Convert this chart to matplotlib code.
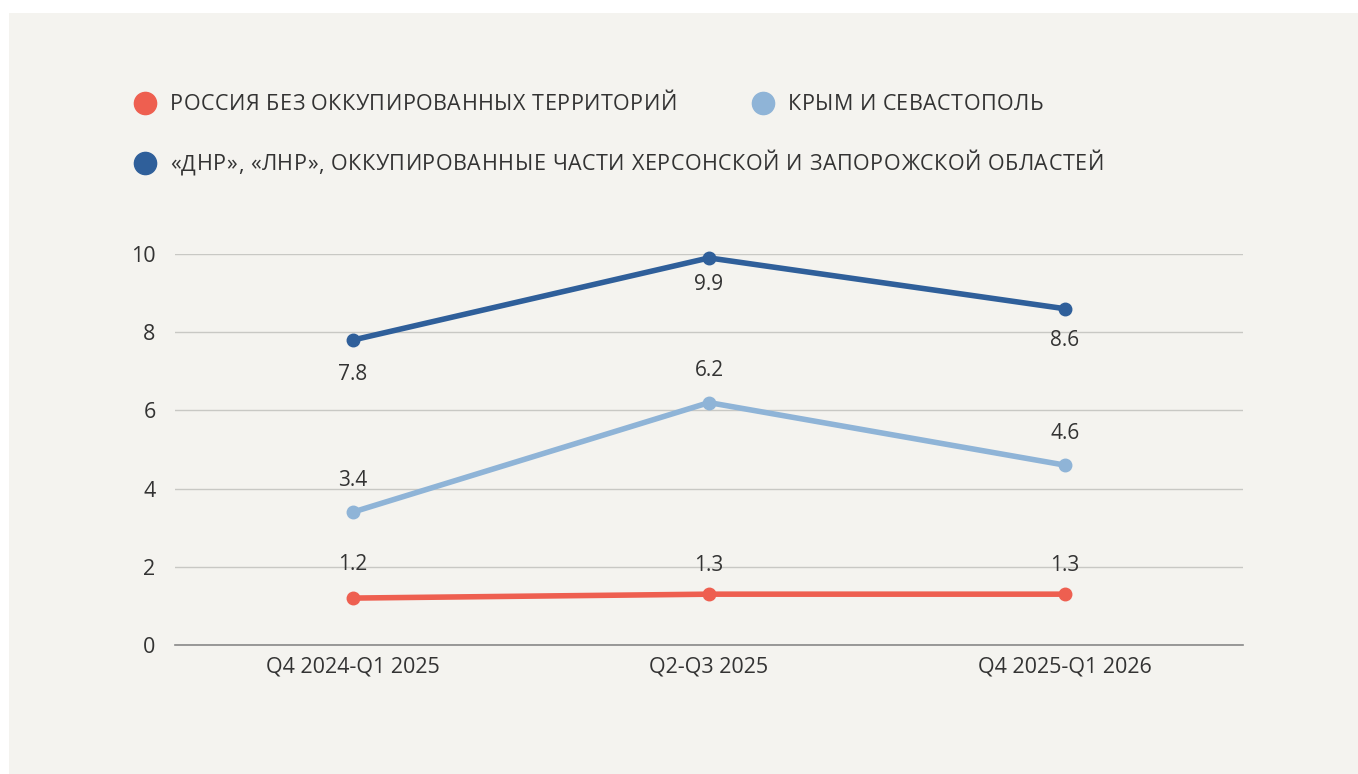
import matplotlib
matplotlib.use("Agg")
import matplotlib.pyplot as plt
from matplotlib.patches import Rectangle
from matplotlib.lines import Line2D

plt.rcParams['font.family'] = ['Open Sans', 'DejaVu Sans']

# --- DATOS ---
periodos = ['Q4 2024-Q1 2025', 'Q2-Q3 2025', 'Q4 2025-Q1 2026']
rusia = [1.2, 1.3, 1.3]
crimea = [3.4, 6.2, 4.6]
ocupados = [7.8, 9.9, 8.6]

nombres = ['РОССИЯ БЕЗ ОККУПИРОВАННЫХ ТЕРРИТОРИЙ',
           'КРЫМ И СЕВАСТОПОЛЬ',
           '«ДНР», «ЛНР», ОККУПИРОВАННЫЕ ЧАСТИ ХЕРСОНСКОЙ И ЗАПОРОЖСКОЙ ОБЛАСТЕЙ']
colores = ['#ee5f50', '#8fb4d7', '#2f5f9a']

W, H = 1358, 774
fondo = '#f4f3ef'
texto = '#333333'

fig = plt.figure(figsize=(W / 100, H / 100), dpi=100)
fig.patch.set_facecolor('white')
fig.add_artist(Rectangle((9 / W, 0), 1 - 9 / W, 1 - 13 / H, transform=fig.transFigure,
                         facecolor=fondo, edgecolor='none', zorder=-10))

ax = fig.add_axes([175 / W, (H - 645) / H, (1243 - 175) / W, (645 - 254) / H])
ax.patch.set_alpha(0)

x = range(len(periodos))
# offsets en puntos para las etiquetas (abajo / arriba)
series = [
    (rusia, colores[0], [24, 21, 21]),
    (crimea, colores[1], [23, 23, 23]),
    (ocupados, colores[2], [-25, -19, -23]),
]
for valores, color, offs in series:
    ax.plot(x, valores, color=color, linewidth=4, marker='o', markersize=9,
            solid_capstyle='round', clip_on=False, zorder=3)
    for xi, v, off in zip(x, valores, offs):
        ax.annotate(f'{v:.1f}', (xi, v), xytext=(0, off), textcoords='offset points',
                    ha='center', va='center', fontsize=15, color=texto)

ax.set_xlim(-0.5, 2.5)
ax.set_ylim(0, 10)
ax.set_yticks([0, 2, 4, 6, 8, 10])
ax.set_xticks(list(x))
ax.set_xticklabels(periodos)
ax.grid(axis='y', color='#c8c8c4', linewidth=1)
ax.set_axisbelow(True)
for s in ['top', 'right', 'left']:
    ax.spines[s].set_visible(False)
ax.spines['bottom'].set_color('#888888')
ax.spines['bottom'].set_linewidth(1.2)
ax.tick_params(length=0, labelsize=15.5, labelcolor=texto)
ax.tick_params(axis='y', pad=14)
ax.tick_params(axis='x', pad=8)

# leyenda manual, con espaciado entre letras
renderer = fig.canvas.get_renderer()


def ancho(cadena, **kw):
    # ancho en px de una cadena (con '|' para no perder espacios finales)
    t = fig.text(0, 0, cadena + '|', **kw)
    w = t.get_window_extent(renderer).width
    t.remove()
    t = fig.text(0, 0, '|', **kw)
    w -= t.get_window_extent(renderer).width
    t.remove()
    return w


def texto_espaciado(x0, y0, cadena, x_fin, **kw):
    # reparte el sobrante entre letras para terminar en x_fin
    espacio = max(0, (x_fin - x0 - ancho(cadena, **kw)) / (len(cadena) - 1))
    for i, c in enumerate(cadena):
        if c == ' ':
            continue
        xp = x0 + ancho(cadena[:i], **kw) + i * espacio
        fig.text(xp / W, 1 - y0 / H, c, va='center', ha='left', **kw)


posiciones = [(145, 103, 677), (763, 103, 1043), (145, 163, 1104)]
for nombre, color, (px, py, fin) in zip(nombres, colores, posiciones):
    fig.add_artist(Line2D([px / W], [1 - py / H], marker='o', markersize=16,
                          color=color, linestyle='none', transform=fig.transFigure))
    texto_espaciado(px + 25, py + 2, nombre, fin, fontsize=15.5, color=texto)

fig.savefig('out.png', dpi=100, facecolor=fig.get_facecolor())
